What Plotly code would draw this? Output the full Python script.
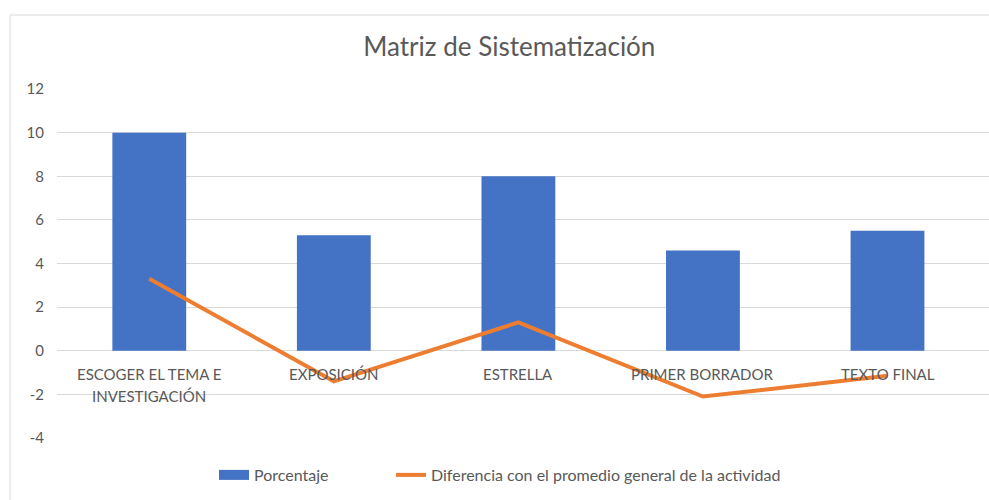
import plotly.graph_objects as go

categories = ["ESCOGER EL TEMA E\nINVESTIGACIÓN", "EXPOSICIÓN", "ESTRELLA", "PRIMER BORRADOR", "TEXTO FINAL"]
porcentaje = [10, 5.3, 8, 4.6, 5.5]
diferencia = [3.3, -1.4, 1.3, -2.1, -1.15]
y_ticks = [-4, -2, 0, 2, 4, 6, 8, 10, 12]

FONT = "Lato"
GREY = "#595959"
BLUE = "#4472C4"
ORANGE = "#ED7D31"
xs = list(range(len(categories)))

fig = go.Figure()
fig.add_trace(go.Bar(x=xs, y=porcentaje, name="Porcentaje", width=0.4, showlegend=False,
                     marker=dict(color=BLUE, line=dict(width=0))))
# legend proxy for the bar series (wide rectangle key)
fig.add_trace(go.Scatter(x=[None], y=[None], name="Porcentaje", mode="lines",
                         line=dict(color=BLUE, width=10), legend="legend"))
fig.add_trace(go.Scatter(x=xs, y=diferencia, name="Diferencia con el promedio general de la actividad",
                         mode="lines", line=dict(color=ORANGE, width=4), legend="legend2"))

annotations = []
for i, c in enumerate(categories):
    for j, line in enumerate(c.split("\n")):
        annotations.append(dict(x=i, y=0, xref="x", yref="y", text=line, showarrow=False,
                                yanchor="middle", yshift=-23 - 22 * j,
                                font=dict(family=FONT, size=15, color=GREY)))

legend_common = dict(orientation="h", xanchor="left", y=-0.106, yanchor="middle",
                     font=dict(family=FONT, size=16, color=GREY), bgcolor="rgba(0,0,0,0)")

fig.update_layout(
    width=989, height=500,
    margin=dict(l=57, r=0, t=89, b=62),
    paper_bgcolor="white", plot_bgcolor="white",
    title=dict(text="Matriz de Sistematización", x=0.515, xanchor="center",
               y=1 - 47 / 500, yanchor="middle",
               font=dict(family=FONT, size=26, color=GREY)),
    xaxis=dict(range=[-0.5, 4.55], showticklabels=False, showgrid=False, zeroline=False,
               showline=False, ticks=""),
    yaxis=dict(range=[-4, 12], tickvals=y_ticks, ticktext=[str(v) for v in y_ticks],
               showgrid=True, gridcolor="#D9D9D9", gridwidth=1,
               zeroline=True, zerolinecolor="#D9D9D9", zerolinewidth=1, showline=False,
               ticks="", ticklabelstandoff=12,
               tickfont=dict(family=FONT, size=15, color=GREY)),
    showlegend=True,
    legend=dict(x=(214 - 57) / 932, **legend_common),
    legend2=dict(x=(391 - 57) / 932, **legend_common),
    annotations=annotations,
    shapes=[dict(type="rect", xref="paper", yref="paper",
                 x0=(10 - 57) / 932, x1=1.05, y0=-0.3, y1=1 + (89 - 15) / 349,
                 line=dict(color="#D9D9D9", width=1), fillcolor="rgba(0,0,0,0)", layer="below")],
)

fig.write_html("out.html", config={"displayModeBar": False},
               post_script="document.body.style.margin='0';")
